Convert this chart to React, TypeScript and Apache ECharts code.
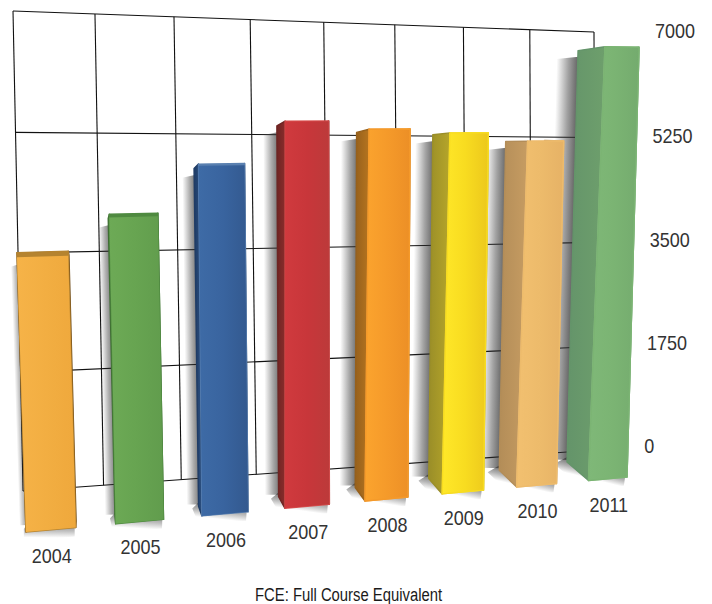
import React, { useEffect, useRef } from "react";
import * as echarts from "echarts";

const W = 712;
const H = 604;

const categories = ["2004", "2005", "2006", "2007", "2008", "2009", "2010", "2011"];
const fceValues = [3890, 4380, 5050, 5640, 5520, 5460, 5330, 6740];
const yTicks = [0, 1750, 3500, 5250, 7000];
const yMax = 7000;
const footnote = "FCE: Full Course Equivalent";

const frontLight = ["#F6B348", "#6DAA56", "#3E6BA6", "#D03A3E", "#FBA42E", "#FFE829", "#F2C070", "#7FB878"];
const frontMid = ["#F2AE42", "#67A451", "#39649F", "#C8363A", "#F59A2A", "#F8DC20", "#EDBB6B", "#7BB473"];
const frontDark = ["#EFA83C", "#619C4D", "#33598F", "#BC3A3A", "#EC8F26", "#ECC81C", "#E6B266", "#74AB6E"];
const sideDark = ["#6E4A18", "#3F6E33", "#1F3C66", "#6E2523", "#96601C", "#9A8E28", "#B38D58", "#64946A"];
const sideLight = ["#8A5E20", "#4E8240", "#2B4F80", "#8A2C2B", "#B5741F", "#B5A52A", "#C69C62", "#6E9F6C"];
const topShade = ["#B5832F", "#4F8A40", "#5A80B0", "#D9504F", "#F0A040", "#F0DC40", "#F0C080", "#8FC088"];

type Pt = [number, number];
type Quad = [Pt, Pt, Pt, Pt];

function planeFromQuad(q: Quad) {
  const [[x0, y0], [x1, y1], [x2, y2], [x3, y3]] = q;
  const dx1 = x1 - x2, dx2 = x3 - x2, sx = x0 - x1 + x2 - x3;
  const dy1 = y1 - y2, dy2 = y3 - y2, sy = y0 - y1 + y2 - y3;
  const den = dx1 * dy2 - dx2 * dy1;
  const g = (sx * dy2 - dx2 * sy) / den;
  const h = (dx1 * sy - sx * dy1) / den;
  const a = x1 - x0 + g * x1, b = x3 - x0 + h * x3;
  const d = y1 - y0 + g * y1, e = y3 - y0 + h * y3;
  return (s: number, t: number): Pt => {
    const w = g * s + h * t + 1;
    return [(a * s + b * t + x0) / w, (d * s + e * t + y0) / w];
  };
}

// Perspective planes: a point of the flat hidden grid (band units, fraction of the value axis) goes to the page.
const wallPlane = planeFromQuad([[23, 491], [595, 450], [594, 32], [13, 11]]);
const frontPlane = planeFromQuad([[26, 532], [627, 477], [639.5, 30], [9.4, 18]]);
const backPlane = planeFromQuad([[27.5, 527], [567, 462], [578.5, 34], [11.5, 30]]);
const FRONT_SPAN = 7.55;
const BACK_SPAN = 7;
const BAR_FRACTION = 0.55;

function App() {
  const ref = useRef<HTMLDivElement>(null);
  useEffect(() => {
    document.body.style.margin = "0";
    const chart = echarts.init(ref.current!, undefined, { renderer: "svg" });

    const unit = (params: any, api: any, band: number, value: number): Pt => {
      const cs = params.coordSys;
      const step = cs.width / categories.length;
      const p = api.coord([categories[0], value]);
      return [(p[0] - step / 2 - cs.x) / step + band, (cs.y + cs.height - p[1]) / cs.height];
    };

    const wallV = (params: any, api: any) => {
      const i = api.value(0);
      const a = unit(params, api, i, 0);
      const b = unit(params, api, i, yMax);
      const p = wallPlane(a[0] / categories.length, a[1]);
      const q = wallPlane(b[0] / categories.length, b[1]);
      return {
        type: "line",
        shape: { x1: p[0], y1: p[1], x2: q[0], y2: q[1] },
        style: { stroke: "#111111", lineWidth: 1.1, fill: "none" },
      };
    };
    const wallH = (params: any, api: any) => {
      const v = api.value(1);
      const a = unit(params, api, 0, v);
      const b = unit(params, api, categories.length, v);
      const p = wallPlane(a[0] / categories.length, a[1]);
      const q = wallPlane(b[0] / categories.length, b[1]);
      return {
        type: "line",
        shape: { x1: p[0], y1: p[1], x2: q[0], y2: q[1] },
        style: { stroke: "#111111", lineWidth: 1.1, fill: "none" },
      };
    };
    const tickLabel = (params: any, api: any) => {
      const v = api.value(1);
      const a = unit(params, api, 8.95, v);
      const p = wallPlane(a[0] / categories.length, a[1]);
      return {
        type: "text",
        x: p[0] - 9 + 11 * a[1],
        y: p[1] + 0.2 - 3.2 * a[1],
        scaleX: 0.9,
        style: {
          text: String(v),
          x: 0,
          y: 0,
          fill: "#333333",
          font: '20px "Liberation Sans"',
          textAlign: "left",
          textVerticalAlign: "middle",
        },
      };
    };

    const barCorners = (params: any, api: any) => {
      const i = api.value(0);
      const v = api.value(1);
      const l0 = unit(params, api, i, 0), r0 = unit(params, api, i + BAR_FRACTION, 0);
      const l1 = unit(params, api, i, v), r1 = unit(params, api, i + BAR_FRACTION, v);
      const f = (u: Pt) => frontPlane(u[0] / FRONT_SPAN, u[1]);
      const b = (u: Pt) => backPlane(u[0] / BACK_SPAN, u[1]);
      const fl1 = f(l1);
      return {
        i,
        fl0: f(l0), fr0: f(r0), fl1: [fl1[0] + i * 0.85, fl1[1]] as Pt, fr1: f(r1),
        bl0: b(l0), br0: b(r0), bl1: b(l1), br1: b(r1),
      };
    };

    const fade = (from: Pt, to: Pt, strength: number) =>
      new echarts.graphic.LinearGradient(from[0], from[1], to[0], to[1], [
        { offset: 0, color: "rgba(50,50,50,0)" },
        { offset: 0.5, color: `rgba(50,50,50,${strength * 0.55})` },
        { offset: 1, color: `rgba(50,50,50,${strength})` },
      ], true);

    const shadowItem = (params: any, api: any) => {
      const c = barCorners(params, api);
      const reach = 8 + c.i * 1.9;
      const drop = 9;
      const strength = 0.7 + c.i * 0.02;
      const leftTop: Pt = [c.bl1[0] + 3, c.bl1[1] + 6];
      const leftBot: Pt = [c.bl0[0] + 3, c.bl0[1] - 2];
      const mid: Pt = [(leftTop[0] + leftBot[0]) / 2, (leftTop[1] + leftBot[1]) / 2];
      const edge = Math.hypot(leftBot[0] - leftTop[0], leftBot[1] - leftTop[1]);
      const nx = -Math.abs(leftBot[1] - leftTop[1]) / edge;
      const ny = (leftBot[0] - leftTop[0]) / edge;
      const far: Pt = [mid[0] + nx * (reach + 3), mid[1] + ny * (reach + 3)];
      const side = {
        type: "polygon",
        shape: {
          points: [
            [leftTop[0] + nx * (reach + 3), leftTop[1] + ny * (reach + 3) + 3],
            leftTop,
            leftBot,
            [leftBot[0] + nx * (reach + 3), leftBot[1] + ny * (reach + 3)],
          ],
        },
        style: { fill: fade(far, mid, strength) },
      };
      const bx = c.fr0[0] - c.bl0[0];
      const by = c.fr0[1] - c.bl0[1];
      const len = Math.hypot(bx, by);
      const mx = -by / len;
      const my = bx / len;
      const base: Pt = [(c.bl0[0] + c.fr0[0]) / 2, (c.bl0[1] + c.fr0[1]) / 2 - 3];
      const under = {
        type: "polygon",
        shape: {
          points: [
            [c.bl0[0] + 2, c.bl0[1] - 6],
            [c.fr0[0] - 1, c.fr0[1] - 6],
            [c.fr0[0] - 1 + mx * drop, c.fr0[1] + my * drop],
            [c.fl0[0] - 2 + mx * drop, c.fl0[1] + my * drop],
            [c.bl0[0] + 2 - reach * 0.7, c.bl0[1] + 2],
          ],
        },
        style: { fill: fade([base[0] + mx * drop * 1.5, base[1] + my * drop * 1.5], base, strength * 0.8) },
      };
      return { type: "group", children: [side, under] };
    };

    const barItem = (params: any, api: any) => {
      const c = barCorners(params, api);
      const i = c.i;
      const rim = { lineWidth: 1.4, lineJoin: "round" };
      const lift = Math.max(0, 4.5 - i * 1.4);
      const tl: Pt = [c.fl1[0], c.fl1[1] + lift];
      const tr: Pt = [c.fr1[0], c.fr1[1] + lift];
      return {
        type: "group",
        children: [
          {
            type: "polygon",
            shape: { points: [c.fr0, c.br0, c.br1, c.fr1] },
            style: { fill: sideDark[i], stroke: sideDark[i], ...rim },
          },
          {
            type: "polygon",
            shape: { points: [c.fl0, c.bl0, c.bl1, c.fl1] },
            style: {
              fill: new echarts.graphic.LinearGradient(0, 0, 1, 0, [
                { offset: 0, color: sideDark[i] },
                { offset: 1, color: sideLight[i] },
              ]),
              stroke: sideDark[i],
              ...rim,
            },
          },
          {
            type: "polygon",
            shape: { points: [c.fl1, c.fr1, c.fr0, c.fl0] },
            style: { fill: topShade[i], stroke: topShade[i], ...rim },
          },
          {
            type: "polygon",
            shape: { points: [c.fl0, c.fr0, tr, tl] },
            style: {
              fill: new echarts.graphic.LinearGradient(0, 0, 1, 0, [
                { offset: 0, color: frontLight[i] },
                { offset: 0.5, color: frontMid[i] },
                { offset: 1, color: frontDark[i] },
              ]),
              stroke: frontMid[i],
              lineWidth: lift > 0 ? 0 : 1.4,
              lineJoin: "round",
            },
          },
        ],
      };
    };

    const yearLabel = (params: any, api: any) => {
      const c = barCorners(params, api);
      return {
        type: "text",
        x: (c.fl0[0] + c.fr0[0]) / 2 + 1,
        y: (c.fl0[1] + c.fr0[1]) / 2 + 26,
        scaleX: 0.9,
        style: {
          text: categories[c.i],
          x: 0,
          y: 0,
          fill: "#333333",
          font: '20px "Liberation Sans"',
          textAlign: "center",
          textVerticalAlign: "middle",
        },
      };
    };

    const barData = categories.map((_, i) => [i, fceValues[i]]);
    const common = { type: "custom", coordinateSystem: "cartesian2d", silent: true, clip: false };

    chart.setOption({
      animation: false,
      backgroundColor: "#ffffff",
      grid: { left: 0, top: 0, width: W, height: H, containLabel: false },
      xAxis: { type: "category", data: categories, show: false },
      yAxis: { type: "value", min: 0, max: yMax, interval: 1750, show: false },
      graphic: [
        {
          type: "text",
          x: 255,
          y: 594,
          scaleX: 0.824,
          style: {
            text: footnote,
            x: 0,
            y: 0,
            fill: "#1a1a1a",
            font: '18px "Liberation Sans"',
            textVerticalAlign: "middle",
          },
        },
      ],
      series: [
        { ...common, z: 1, data: categories.map((_, i) => [i, 0]).concat([[8, 0]]), renderItem: wallV, encode: { x: -1, y: 1 } },
        { ...common, z: 1, data: yTicks.map((v) => [0, v]), renderItem: wallH, encode: { x: 0, y: 1 } },
        { ...common, z: 1, data: yTicks.map((v) => [0, v]), renderItem: tickLabel, encode: { x: 0, y: 1 } },
        { ...common, z: 2, data: barData, renderItem: shadowItem, encode: { x: 0, y: 1 } },
        { ...common, z: 3, data: barData, renderItem: barItem, encode: { x: 0, y: 1 } },
        { ...common, z: 3, data: barData, renderItem: yearLabel, encode: { x: 0, y: 1 } },
      ],
    });
    return () => chart.dispose();
  }, []);
  return <div ref={ref} style={{ width: W, height: H }} />;
}

export default App;
